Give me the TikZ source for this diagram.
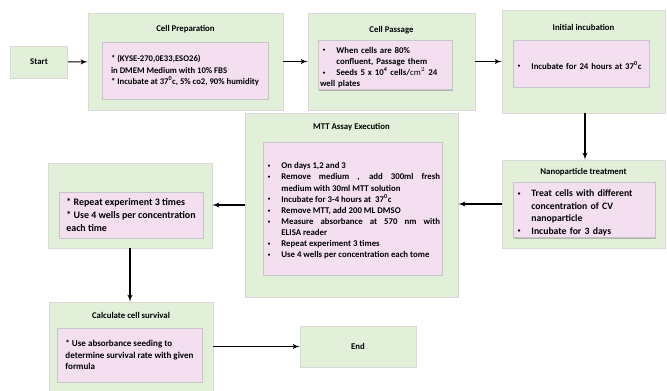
\documentclass[tikz,border=0pt]{standalone}
\usepackage{fontspec}
\setmainfont{Carlito}
\usepackage{amsmath}
\usepackage{xcolor}
\usetikzlibrary{shapes, arrows, positioning, shadows}

\definecolor{stagegreen}{RGB}{226,240,217}
\definecolor{detailpink}{RGB}{244,223,241}
\lefthyphenmin=62
\newcommand{\bitem}{\par\hangindent=14pt\hangafter=1\noindent\makebox[14pt][l]{\hspace{2.5pt}\raisebox{0.3ex}{\scalebox{0.55}{\textbullet}}}}

\begin{document}
\begin{tikzpicture}[x=0.03cm, y=-0.03cm, auto, thick, font=\bfseries\fontsize{7.5}{9.5}\selectfont]
    \tikzstyle{stage} = [rectangle, draw=gray!30, fill=stagegreen, inner sep=0pt, drop shadow={shadow xshift=0.7pt, shadow yshift=-0.9pt, opacity=0.45}]
    \tikzstyle{detail} = [rectangle, draw=gray!45, fill=detailpink, inner sep=0.06cm, align=left, drop shadow={shadow xshift=0.5pt, shadow yshift=-0.8pt, opacity=0.5}]
    \tikzstyle{title} = [inner sep=0pt]
    \tikzstyle{line} = [draw, -latex', line width=1pt]

    \useasboundingbox (0,0) rectangle (667,391);

    \node [stage, minimum width=1.71cm, minimum height=0.96cm] (start) at (39,62) {Start};

    % top row
    \node [stage, minimum width=5.85cm, minimum height=2.91cm] (prep) at (185.5,61.5) {};
    \node [title] (preptitle) at (185.5,29) {Cell Preparation};
    \node [detail, minimum width=4.98cm, minimum height=1.71cm, font=\bfseries\fontsize{7.4}{9.5}\selectfont] (prepinfo) at (185,70.5)
        {* (KYSE-270,0E33,ESO26)\\ in DMEM Medium with 10\% FBS\\ * Incubate at 37\textsuperscript{0}c, 5\% co2, 90\% humidity};

    \node [stage, minimum width=5.01cm, minimum height=2.91cm] (passage) at (391.5,61.5) {};
    \node [title] (passagetitle) at (391.5,30) {Cell Passage};
    \node [detail, text width=3.90cm, minimum height=1.38cm] (passageinfo) at (385,65)
        {\bitem When cells are 80\%\newline confluent, Passage them
         \bitem Seeds 5 x 10\textsuperscript{4} cells/$\mathrm{cm}^2$ 24\newline well plates};

    \node [stage, minimum width=4.89cm, minimum height=3.09cm] (initial) at (583.5,61.5) {};
    \node [title] (initialtitle) at (583.5,27) {Initial incubation};
    \node [detail, text width=3.96cm, minimum height=1.41cm] (initialinfo) at (581,63.5)
        {\bitem Incubate for 24 hours at 37\textsuperscript{0}c};

    % middle row
    \node [stage, minimum width=4.89cm, minimum height=2.64cm] (nano) at (583.5,204) {};
    \node [title] (nanotitle) at (583.5,172) {Nanoparticle treatment};
    \node [detail, text width=4.14cm, minimum height=1.62cm, font=\bfseries\fontsize{8.3}{10.7}\selectfont] (nanoinfo) at (584,210)
        {\bitem Treat cells with different\newline concentration of CV\newline nanoparticle
         \bitem Incubate for 3 days};

    \node [stage, minimum width=6.39cm, minimum height=5.52cm] (mtt) at (351.5,205) {};
    \node [title] (mtttitle) at (351.5,127) {MTT Assay Execution};
    \node [detail, text width=5.25cm, minimum height=3.99cm, align=justify] (mttinfo) at (352.5,208.5)
        {\bitem On days 1,2 and 3
         \bitem Remove medium , add 300ml fresh\linebreak medium with 30ml MTT solution
         \bitem Incubate for 3-4 hours at \ 37\textsuperscript{0}c
         \bitem Remove MTT, add 200 ML DMSO
         \bitem Measure absorbance at 570 nm with\linebreak ELISA reader
         \bitem Repeat experiment 3 times
         \bitem Use 4 wells per concentration each tome};

    \node [stage, minimum width=4.92cm, minimum height=2.55cm] (repeat) at (130,205.5) {};
    \node [detail, minimum width=4.32cm, minimum height=1.38cm, font=\bfseries\fontsize{8.5}{11}\selectfont] (repeatinfo) at (131,215)
        {* Repeat experiment 3 times\\ * Use 4 wells per concentration\\ each time};

    % bottom row
    \node [stage, minimum width=4.92cm, minimum height=2.82cm] (survival) at (131,349) {};
    \node [title] (survivaltitle) at (131,315) {Calculate cell survival};
    \node [detail, minimum width=4.35cm, minimum height=1.62cm, font=\bfseries\fontsize{7.7}{9.8}\selectfont] (survivalinfo) at (129.5,355)
        {* Use absorbance seeding to\\ determine survival rate with given\\ formula};

    \node [stage, minimum width=3.48cm, minimum height=1.23cm] (end) at (358,346.5) {End};

    \path [line] (start) -- (prep);
    \path [line] (prep) -- (passage);
    \path [line] (passage) -- (initial);
    \path [line] (initial.south -| 585,0) -- (nano.north -| 585,0);
    \path [line] (nano.west) -- (mtt.east |- nano.west);
    \path [line] (mtt.west) -- (repeat.east |- mtt.west);
    \path [line] (repeat.south) -- (survival.north -| repeat.south);
    \path [line] (survival.east |- end.west) -- (end.west);
\end{tikzpicture}
\end{document}
